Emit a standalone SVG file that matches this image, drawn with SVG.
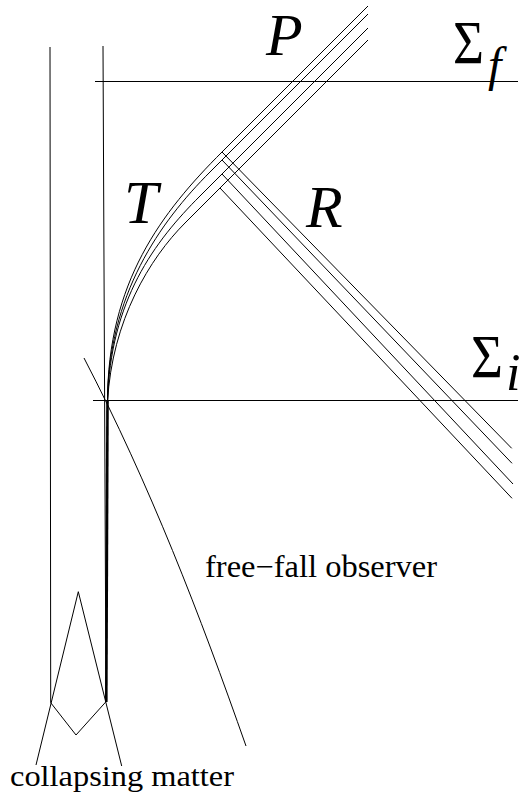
<svg xmlns="http://www.w3.org/2000/svg" width="525" height="796" viewBox="0 0 525 796">
<style>
.ln{fill:none;stroke:#000;stroke-width:1}
.th{fill:none;stroke:#000;stroke-width:2.6}
</style>
<rect width="525" height="796" fill="#fff"/>
<g id="spacetime">
<line class="ln" x1="50" y1="47" x2="50.7" y2="702.7"/>
<line class="ln" x1="103" y1="46" x2="106" y2="702"/>
<line class="th" x1="106.3" y1="702" x2="107.5" y2="400"/>
</g>
<g id="slices">
<line class="ln" x1="95" y1="81.5" x2="518" y2="81.5"/>
<line class="ln" x1="93" y1="400.5" x2="518" y2="400.5"/>
</g>
<g id="rays-P">
<path class="ln" d="M107.5,402 C107.5,282 162,212 222,152 L368,6"/>
<path class="ln" d="M107.5,402 C108,295 160,222 210,172 L368,14"/>
<path class="ln" d="M107.5,402 C110,300 155,241 200,196 L368,28"/>
<path class="ln" d="M107.5,402 C112,320 150,258 185,223 L368,40"/>
</g>
<g id="rays-R">
<line class="ln" x1="222" y1="152" x2="511.7" y2="448.3"/>
<line class="ln" x1="222" y1="160" x2="512" y2="463.3"/>
<line class="ln" x1="222" y1="174" x2="513" y2="484"/>
<line class="ln" x1="220" y1="188" x2="512" y2="498.3"/>
</g>
<g id="observer">
<path class="ln" d="M84,358 C150,485 200,615 246,746"/>
</g>
<g id="matter">
<polyline class="ln" points="36,765 78.3,591.7 121.7,766"/>
<polyline class="ln" points="50.7,702.7 76,735 106,701.7"/>
</g>
<g id="labels" fill="#000">
<text x="266" y="55" font-family="Liberation Serif" font-size="60" font-style="italic">P</text>
<text x="124" y="223" font-family="Liberation Serif" font-size="61" font-style="italic">T</text>
<text x="306" y="227" font-family="Liberation Serif" font-size="60" font-style="italic">R</text>
<text x="453" y="63" font-family="Liberation Serif" font-size="62" textLength="31" lengthAdjust="spacingAndGlyphs">Σ</text>
<text x="488" y="81" font-family="Liberation Serif" font-size="48" font-style="italic">f</text>
<text x="471" y="377" font-family="Liberation Serif" font-size="62" textLength="32" lengthAdjust="spacingAndGlyphs">Σ</text>
<text x="506" y="390" font-family="Liberation Serif" font-size="52" font-style="italic">i</text>
<text x="205" y="577" font-family="Liberation Serif" font-size="31" textLength="232" lengthAdjust="spacingAndGlyphs">free−fall observer</text>
<text x="10" y="786" font-family="Liberation Serif" font-size="30" textLength="224" lengthAdjust="spacingAndGlyphs">collapsing matter</text>
</g>
</svg>
